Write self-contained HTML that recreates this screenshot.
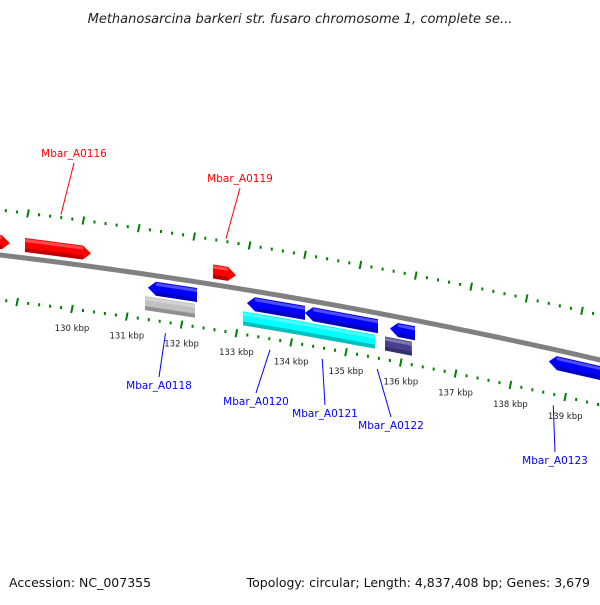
<!DOCTYPE html>
<html><head><meta charset="utf-8"><style>
body{margin:0;background:#fff}
svg text{font-family:"DejaVu Sans","Liberation Sans",sans-serif}
</style></head><body>
<svg id="map" width="600" height="600" viewBox="0 0 600 600" xmlns="http://www.w3.org/2000/svg">
<defs>
<linearGradient id="gbb" x1="0" y1="0" x2="0" y2="1"><stop offset="0" stop-color="#a8a8a8"/><stop offset="1" stop-color="#606060"/></linearGradient>
</defs>
<text x="300" y="23" text-anchor="middle" font-size="13" font-style="italic" fill="#222">Methanosarcina barkeri str. fusaro chromosome 1, complete se...</text>
<g id="ticks"></g>
<path id="backbone" fill="none" stroke="#808080" stroke-width="5"/>
<g id="genes"></g>
<g id="labels"></g>
<text x="9" y="587" font-size="12.5" fill="#111">Accession: NC_007355</text>
<text x="590" y="587" text-anchor="end" font-size="12.5" fill="#111">Topology: circular; Length: 4,837,408 bp; Genes: 3,679</text>
</svg>
<script>
const majorKbp=[130,131,132,133,134,135,136,137,138,139];
const geneNames=["g-red1","g-red2","g-red3","Mbar_A0118","g-gray","Mbar_A0120","g-cyan1","Mbar_A0121","g-cyan2","Mbar_A0122","g-purple","Mbar_A0123"];
const geneStart=[128.73,129.545,132.964,131.78,131.727,133.58,133.51,134.636,134.545,136.18,136.09,139.07];
const geneEnd=[129.27,130.745,133.382,132.673,132.636,134.636,134.58,135.964,135.909,136.636,136.58,140.36];
const geneStrand=[1,1,1,-1,0,-1,0,-1,0,-1,0,-1];
const geneLane=[-1,-1,-1,1,2,1,2,1,2,1,2,1];
const geneColor=["#ff0000","#ff0000","#ff0000","#0000ff","#c0c0c0","#0000ff","#00ffff","#0000ff","#00ffff","#0000ff","#46418f","#0000ff"];
const labelText=["Mbar_A0116","Mbar_A0119","Mbar_A0118","Mbar_A0120","Mbar_A0121","Mbar_A0122","Mbar_A0123"];
const labelKbp=[130.2,133.2,132.1,134.0,134.95,135.95,139.15];
const labelPos=[[74,157],[240,182],[159,389],[256,405],[325,417],[391,429],[555,464]];
const labelColor=["#ff0000","#ff0000","#0000ff","#0000ff","#0000ff","#0000ff","#0000ff"];
const NS="http://www.w3.org/2000/svg";
function Y(x){return 255+0.1183*x+0.0000944*x*x;}
function Xmid(k){return 50+55*(k-130);}
function Xup(k){return 28+55.4*(k-130);}
function Xlo(k){return 72+54.8*(k-130);}
function mk(t,a,p){const e=document.createElementNS(NS,t);for(const k in a)e.setAttribute(k,a[k]);p.appendChild(e);return e;}
// backbone
let d="";for(let x=-10;x<=610;x+=10)d+=(x===-10?"M":"L")+x+","+Y(x).toFixed(2);
document.getElementById("backbone").setAttribute("d",d);
// ticks
const tg=document.getElementById("ticks");
for(let i=-10;i<=60;i++){
 const k=129+i*0.2, major=Math.abs(k-Math.round(k))<0.01;
 [[Xup(k),-45],[Xlo(k),45]].forEach(([x,off])=>{
  if(x<-5||x>605)return;
  const y=Y(x)+off;
  let r;
  if(major){r=mk("line",{x1:x+0.8,y1:y-4,x2:x-0.8,y2:y+4,stroke:"#008000","stroke-width":2},tg);
   }
  else{r=mk("rect",{x:x-1,y:y-1.5,width:2,height:3,fill:"#008000"},tg);
   }
  
 });
}
majorKbp.forEach(k=>{
 const x=Xlo(k),y=Y(x)+45;
 const t=mk("text",{x:x,y:y+22,"text-anchor":"middle","font-size":"8.5",fill:"#222"},tg);
 t.textContent=k+" kbp";
 
 
});
// genes
const gg=document.getElementById("genes");
geneNames.forEach((n,i)=>{
 const x1=Xmid(geneStart[i]),x2=Xmid(geneEnd[i]);
 const lane=geneLane[i];
 const top=lane===-1?-20:lane===1?6:22, th=14;
 const p=[];
 const head=8;
 const T=(x)=>Y(x)+top,B=(x)=>Y(x)+top+th,M=(x)=>Y(x)+top+th/2;
 if(geneStrand[i]===1){
  p.push([x1,T(x1)],[x2-head,T(x2-head)],[x2,M(x2)],[x2-head,B(x2-head)],[x1,B(x1)]);
 }else if(geneStrand[i]===-1){
  p.push([x1,M(x1)],[x1+head,T(x1+head)],[x2,T(x2)],[x2,B(x2)],[x1+head,B(x1+head)]);
 }else{
  p.push([x1,T(x1)],[x2,T(x2)],[x2,B(x2)],[x1,B(x1)]);
 }
 const g=mk("g",{},gg);
 
 
 mk("polygon",{points:p.map(q=>q[0].toFixed(1)+","+q[1].toFixed(1)).join(" "),fill:geneColor[i]},g);
 // shading: lighter top strip, darker bottom strip
 const sx1=geneStrand[i]===-1?x1+head:x1, sx2=geneStrand[i]===1?x2-head:x2;
 mk("polygon",{points:`${sx1},${T(sx1)+1} ${sx2},${T(sx2)+1} ${sx2},${T(sx2)+4} ${sx1},${T(sx1)+4}`,fill:"#fff",opacity:0.3},g);
 mk("polygon",{points:`${sx1},${B(sx1)-4} ${sx2},${B(sx2)-4} ${sx2},${B(sx2)} ${sx1},${B(sx1)}`,fill:"#000",opacity:0.25},g);
});
// labels
const lg=document.getElementById("labels");
labelText.forEach((s,i)=>{
 const [lx,ly]=labelPos[i];
 const up=labelColor[i]==="#ff0000";
 const gx=Xmid(labelKbp[i]);
 const gy=up?Y(gx)-48:Y(gx)+56;
 const ln=mk("line",{x1:lx,y1:up?ly+6:ly-12,x2:gx,y2:gy,stroke:labelColor[i],"stroke-width":1},lg);
 
 
 const t=mk("text",{x:lx,y:ly,"text-anchor":"middle","font-size":"10.5",fill:labelColor[i]},lg);
 t.textContent=s;
 
 
});
</script>
</body></html>
